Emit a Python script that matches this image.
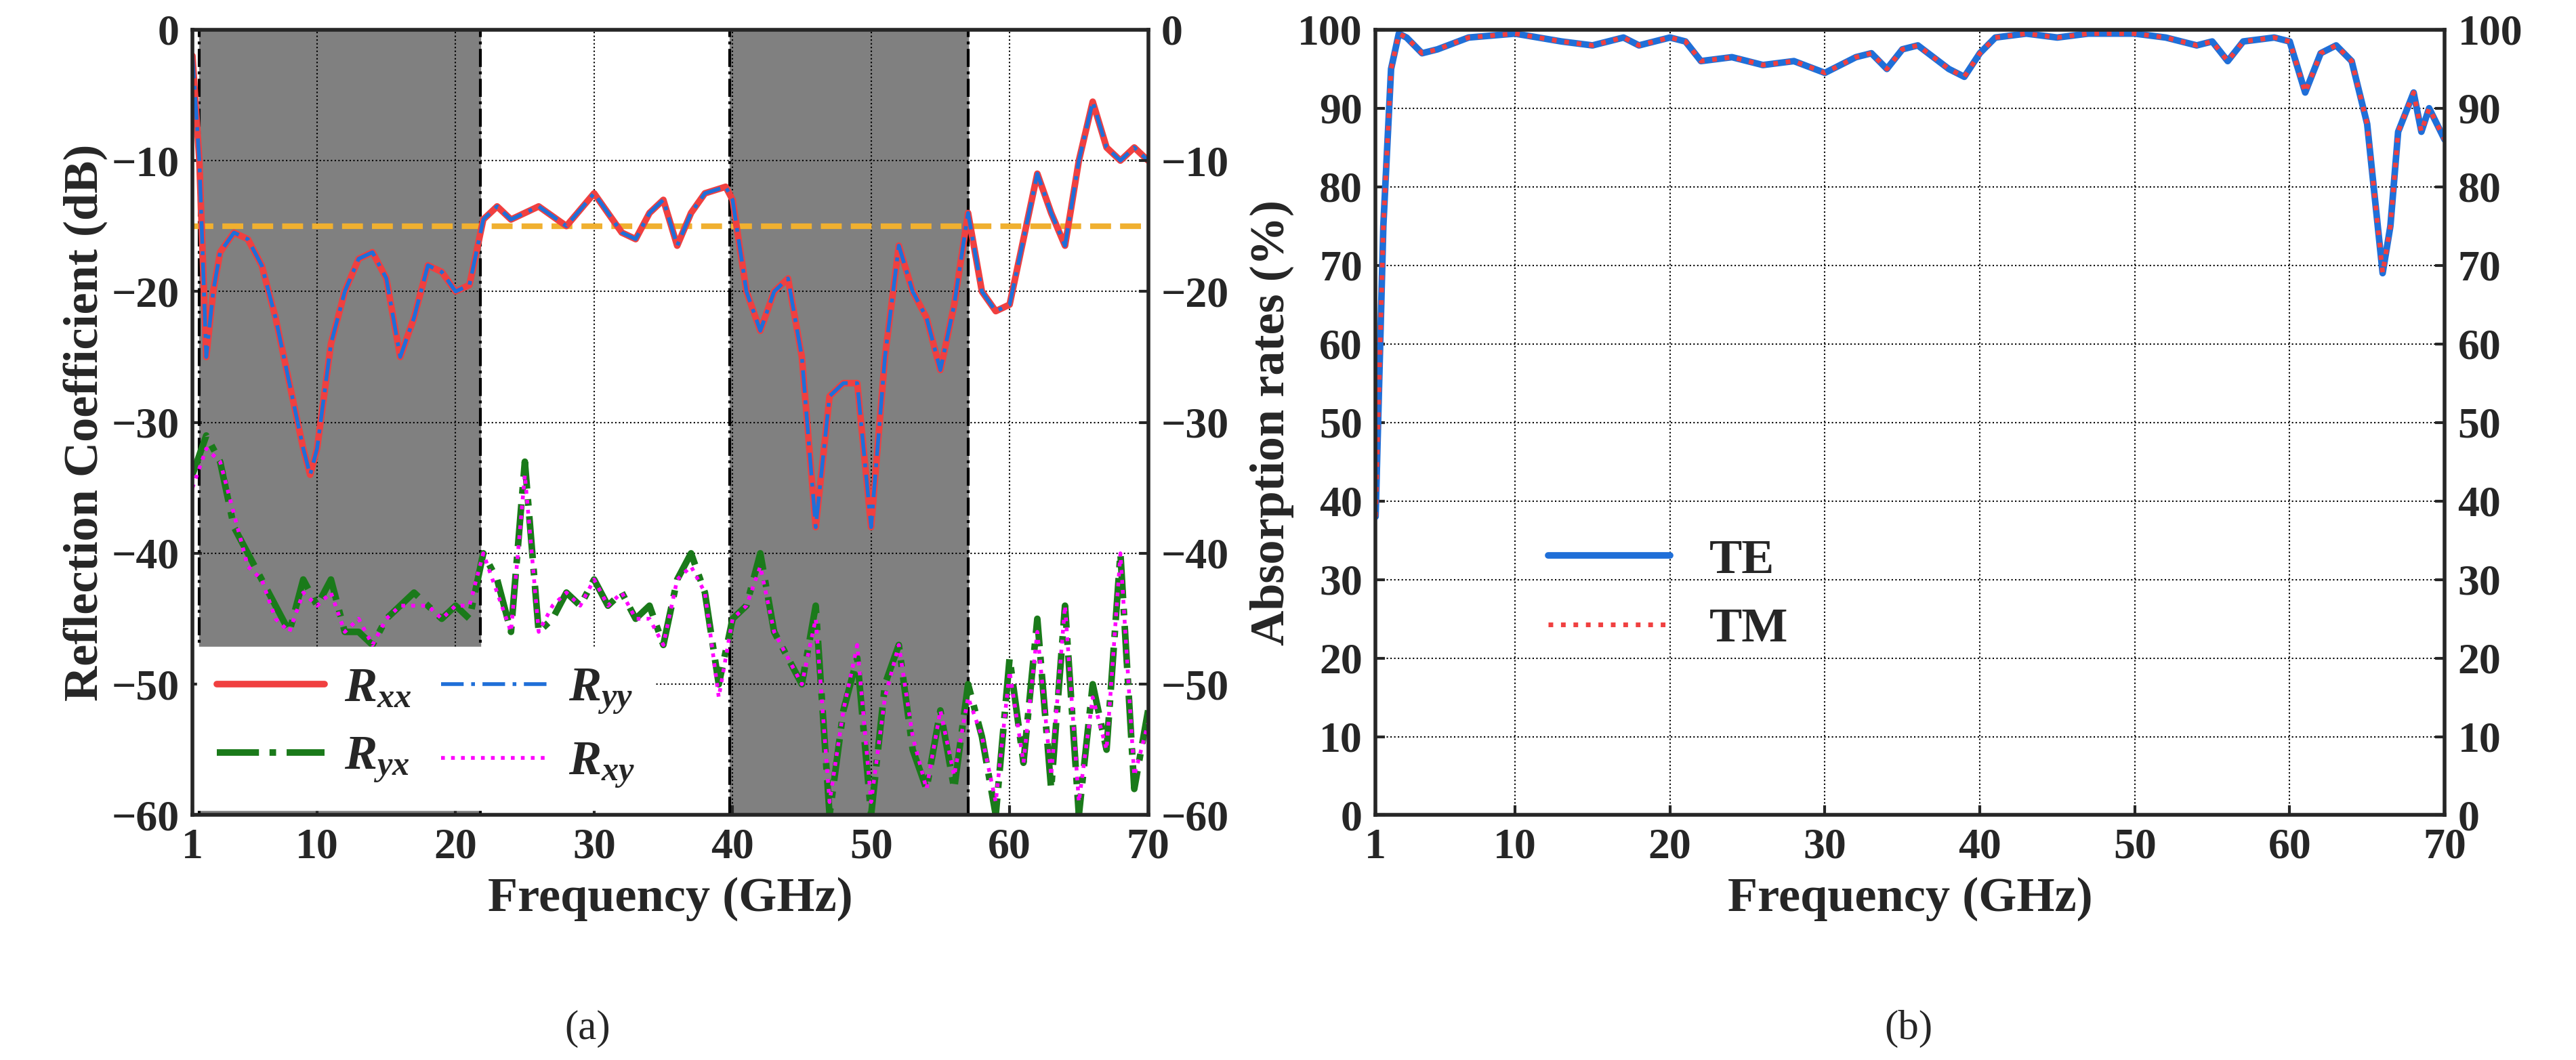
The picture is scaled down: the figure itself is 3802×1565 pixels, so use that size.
import numpy as np, matplotlib
matplotlib.use("Agg")
import matplotlib.pyplot as plt, seaborn as sns
sns.set_style("ticks")
plt.rcParams['font.family']=['Liberation Serif','DejaVu Serif']
plt.rcParams['font.weight']='bold'
plt.rcParams['mathtext.fontset']='custom'
plt.rcParams['mathtext.it']='Liberation Serif:italic:bold'
plt.rcParams['mathtext.rm']='Liberation Serif:bold'

freq_r=[1,1.5,2,2.5,3,4,5,6,7,8,9,9.5,10,11,12,13,14,15,16,17,18,19,20,21,22,23,24,26,28,30,32,33,34,35,36,37,38,39.5,40,41,42,43,44,45,46,47,48,49,50,51,52,53,54,55,56,57,58,59,60,61,62,63,64,65,66,67,68,69,70]
rxx=[-2,-10,-25,-20,-17,-15.5,-16,-18,-22,-27,-32,-34,-32,-24,-20,-17.5,-17,-19,-25,-22,-18,-18.5,-20,-19.5,-14.5,-13.5,-14.5,-13.5,-15,-12.5,-15.5,-16,-14,-13,-16.5,-14,-12.5,-12,-13,-20,-23,-20,-19,-25,-38,-28,-27,-27,-38,-25,-16.5,-20,-22,-26,-21,-14,-20,-21.5,-21,-16,-11,-14,-16.5,-10,-5.5,-9,-10,-9,-10]
freq_c=list(range(1,71))
ryx=[-34,-31,-33,-38,-40,-42,-44,-46,-42,-44,-42,-46,-46,-47,-45,-44,-43,-44,-45,-44,-45,-40,-42,-46,-33,-46,-45,-43,-44,-42,-44,-43,-45,-44,-47,-42,-40,-43,-50,-45,-44,-40,-46,-48,-50,-44,-60,-52,-48,-60,-50,-47,-55,-58,-52,-58,-50,-54,-60,-48,-56,-45,-58,-44,-60,-50,-55,-40,-58,-52]
rxy=[-35,-32,-33,-37,-41,-42,-45,-46,-43,-44,-43,-46,-45,-47,-45,-44,-44,-44,-45,-44,-44,-40,-43,-46,-34,-46,-44,-43,-44,-42,-44,-43,-45,-45,-47,-42,-41,-43,-51,-45,-44,-41,-46,-48,-50,-45,-59,-52,-47,-59,-51,-47,-54,-58,-52,-57,-51,-54,-59,-49,-56,-46,-57,-44,-59,-51,-55,-40,-57,-53]
freq_a=[1,1.5,2,2.5,3,4,5,7,10,13,15,17,18,20,21,22,24,26,28,30,32,33,34,35,36,38,39,40,41,43,45,47,50,52,54,55,56,57,59,60,61,62,63,64,65,66,66.5,67,68,68.5,69,70]
te=[38,75,95,99.5,99,97,97.5,99,99.5,98.5,98,99,98,99,98.5,96,96.5,95.5,96,94.5,96.5,97,95,97.5,98,95,94,97,99,99.5,99,99.5,99.5,99,98,98.5,96,98.5,99,98.5,92,97,98,96,88,69,75,87,92,87,90,86]
xticks=[1,10,20,30,40,50,60,70]

TS=46; LS=52
fig=plt.figure(figsize=(38.02,15.65),dpi=100)
ax=fig.add_axes([0.0747,0.231,0.371,0.741])
ax2=fig.add_axes([0.534,0.231,0.415,0.741])
for a in (ax,ax2):
    for s in a.spines.values(): s.set_linewidth(4)
    a.grid(True,color='k',ls=':',lw=1.5)
    a.set_xlim(1,70); a.set_xticks(xticks)
    a.tick_params(labelsize=TS,width=3,length=10,direction='in',pad=14)
    a.set_xlabel('Frequency (GHz)',fontsize=LS,fontweight='bold',labelpad=10)
for x0,x1 in [(1.5,21.8),(39.8,57)]:
    ax.axvspan(x0,x1,color='#808080',zorder=0)
    for xv in (x0,x1): ax.axvline(xv,color='k',ls='-.',lw=3)
ax.axhline(-15,color='#f0b030',ls='--',lw=6)
sns.lineplot(x=freq_r,y=rxx,ax=ax,color='#f04040',lw=7,label=r'$R_{xx}$')
sns.lineplot(x=freq_r,y=rxx,ax=ax,color='#1f6fd8',lw=4,ls=(0,(6,2,1,2)),label=r'$R_{yy}$')
sns.lineplot(x=freq_c,y=ryx,ax=ax,color='#1a7a1a',lw=7,ls='-.',label=r'$R_{yx}$')
sns.lineplot(x=freq_c,y=rxy,ax=ax,color='#ff00ff',lw=4,ls=':',label=r'$R_{xy}$')
ax.set_ylim(-60,0); ax.set_yticks(range(-60,1,10))
ax.set_ylabel('Reflection Coefficient (dB)',fontsize=LS,fontweight='bold')
h,l=ax.get_legend_handles_labels()
order=[0,2,1,3]
ax.legend([h[i] for i in order],[l[i] for i in order],ncol=2,loc='lower left',fontsize=LS,frameon=True,fancybox=False,framealpha=1,edgecolor='white',handlelength=2.2,columnspacing=0.6,borderaxespad=0.1,handletextpad=0.4)
axr=ax.twinx(); axr.set_ylim(-60,0); axr.set_yticks(range(-60,1,10))
axr.tick_params(labelsize=TS,width=3,length=10,direction='in',pad=14)
sns.lineplot(x=freq_a,y=te,ax=ax2,color='#1f6fd8',lw=7,label='TE')
sns.lineplot(x=freq_a,y=te,ax=ax2,color='#f04040',lw=5,ls=':',label='TM')
ax2.set_ylim(0,100); ax2.set_yticks(range(0,101,10))
ax2.set_ylabel('Absorption rates (%)',fontsize=LS,fontweight='bold')
ax2.legend(loc='center left',bbox_to_anchor=(0.12,0.28),fontsize=LS,frameon=False,handlelength=2.5)
ax2r=ax2.twinx(); ax2r.set_ylim(0,100); ax2r.set_yticks(range(0,101,10))
ax2r.tick_params(labelsize=TS,width=3,length=10,direction='in',pad=14)
fig.text(0.228,0.02,'(a)',fontsize=44,fontweight='normal',ha='center')
fig.text(0.741,0.02,'(b)',fontsize=44,fontweight='normal',ha='center')
fig.savefig('out.png',dpi=100,facecolor='white')
